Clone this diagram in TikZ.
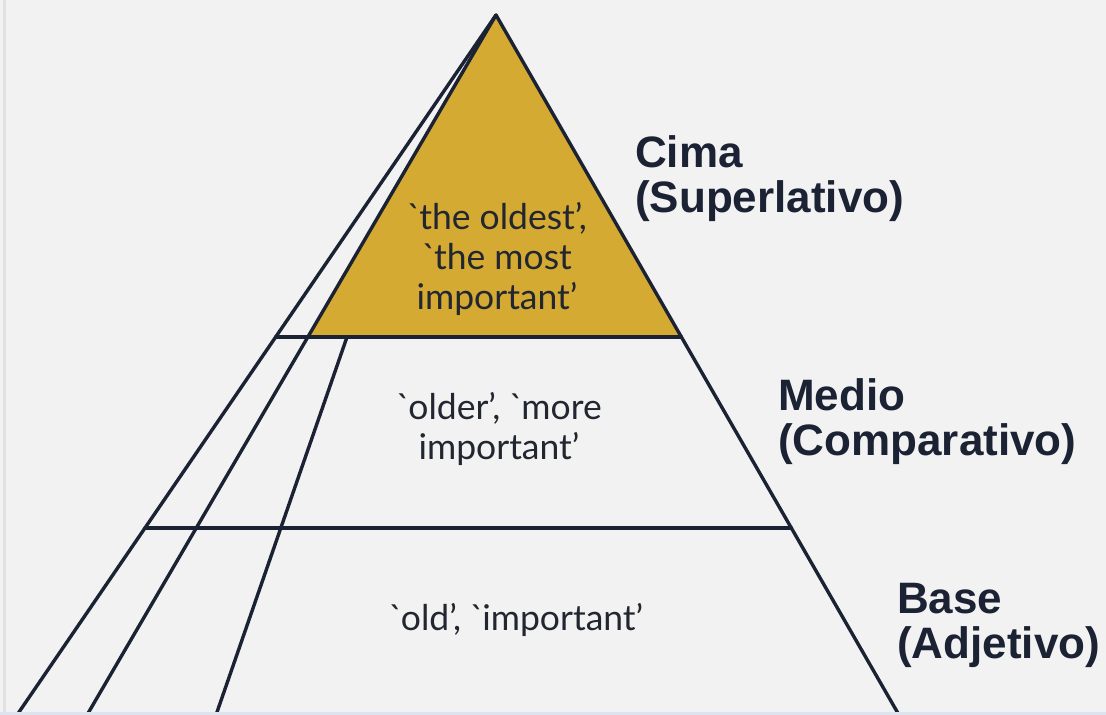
\documentclass[tikz,border=0pt]{standalone}
\usepackage{fontspec}
\usetikzlibrary{calc}
\newfontfamily\labfont{Liberation Sans}
\newfontfamily\bodyfont{Lato}[Ligatures=TeXOff]
\newcommand\bq{`\kern-0.06em}
\definecolor{bg}{HTML}{F2F2F2}
\definecolor{ink}{HTML}{1B2233}
\definecolor{gold}{HTML}{D4AA33}
\definecolor{txt}{HTML}{222630}
\definecolor{edgeblue}{HTML}{DCE5EF}
\definecolor{edgegray}{HTML}{E2E2E2}
\tikzset{
  edge/.style={draw=ink, line width=3.4pt, line cap=round, line join=round},
  body/.style={font=\bodyfont\fontsize{35.5}{40}\selectfont, text=txt, align=center, inner sep=0pt},
  lab/.style={font=\labfont\bfseries\fontsize{44}{45}\selectfont, text=ink, align=left, anchor=west, inner sep=0pt}
}
\begin{document}
\begin{tikzpicture}[x=1pt,y=-1pt]
\fill[bg] (0,0) rectangle (1106,715);
\useasboundingbox (0,0) rectangle (1106,715);
\fill[edgegray] (3,0) rectangle (6,715);
% key points
\coordinate (apex) at (496,15);
\coordinate (rb) at (899,715);
\coordinate (la) at (17,715);
\coordinate (lb) at (87,715);
\coordinate (lc) at (216,715);
\coordinate (c1) at (347,337);
\coordinate (a1) at ($(apex)!0.46!(la)$);
\coordinate (a2) at ($(apex)!0.7329!(la)$);
\coordinate (b1) at ($(apex)!0.46!(lb)$);
\coordinate (r1) at ($(apex)!0.46!(rb)$);
\coordinate (r2) at ($(apex)!0.7329!(rb)$);
% gold top
\fill[gold] (apex) -- (b1) -- (r1) -- cycle;
% lines
\draw[edge] (apex) -- (la);
\draw[edge] (apex) -- (lb);
\draw[edge] (apex) -- (rb);
\draw[edge] (c1) -- (lc);
\draw[edge] (a1) -- (r1);
\draw[edge] (a2) -- (r2);
\fill[edgeblue] (0,712) rectangle (1106,715);
% texts
\node[body] (ttop) at (497,259) {\bq the oldest’,\\\bq the most\\important’};
\node[body] (tmid) at (499,429) {\bq older’, \bq more\\important’};
\node[body] (tbot) at (516,620) {\bq old’, \bq important’};
\node[lab] (lcima) at (635,179) {Cima\\(Superlativo)};
\node[lab] (lmedio) at (778,422) {Medio\\(Comparativo)};
\node[lab] (lbase) at (897,625) {Base\\(Adjetivo)};
\end{tikzpicture}
\end{document}
